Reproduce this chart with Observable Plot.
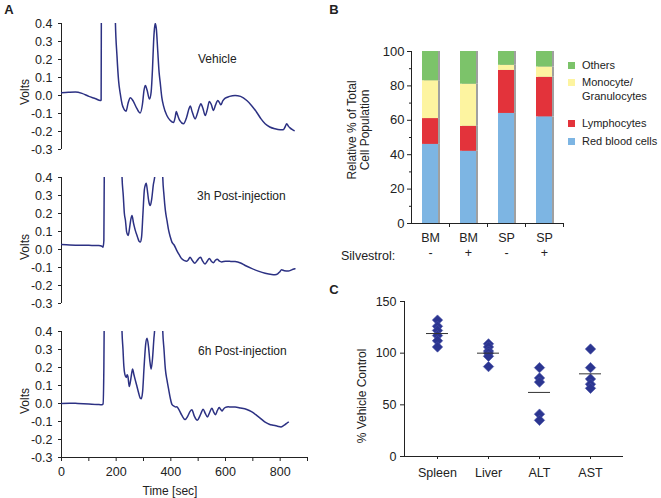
<!DOCTYPE html>
<html><head><meta charset="utf-8">
<script src="https://cdn.jsdelivr.net/npm/d3@7"></script>
<script src="https://cdn.jsdelivr.net/npm/@observablehq/plot@0.6"></script>
<style>
body{margin:0;background:#fff;font-family:"Liberation Sans",Arial,sans-serif;}
#root{position:relative;width:661px;height:498px;overflow:hidden;background:#fff;}
.p{position:absolute;}
.t{position:absolute;font-size:12px;color:#222;white-space:nowrap;line-height:1;}
.c{transform:translate(-50%,-50%);}
.l{transform:translate(0,-50%);}
.rot{transform:translate(-50%,-50%) rotate(-90deg);text-align:center;}
.letter{font-weight:bold;font-size:13px;}
.sq{position:absolute;width:7px;height:7px;}
</style></head><body><div id="root"></div>
<script>
// ---------- Panel A data ----------
const voltTicks = [-0.3, -0.2, -0.1, 0.0, 0.1, 0.2, 0.3, 0.4];
const timeTicks = [0, 100, 200, 300, 400, 500, 600, 700, 800, 900];
const timeLabels = ["0", "", "200", "", "400", "", "600", "", "800", ""];

const vehicleTime = [0,25,51,75,100,125,142,145,146,150,190,197,203,209,215,222,228,236,244,252,262,275,288,296,302,307,313,322,328,333,337,340,343,347,352,357,361,367,373,385,398,410,416,420,425,433,446,458,466,471,478,489,497,505,510,517,526,533,541,548,556,563,572,578,583,590,599,615,635,655,678,695,714,730,745,762,781,800,811,818,824,830,836,845,851];
const vehicleVolts = [0.015,0.018,0.02,0.012,-0.005,-0.018,-0.028,-0.025,0.6,1.5,1.5,0.42,0.22,0.08,0.01,-0.05,-0.074,-0.087,-0.04,-0.013,-0.03,-0.07,-0.097,-0.05,0.03,0.055,0.03,-0.02,0.02,0.15,0.3,0.37,0.40,0.37,0.25,0.13,0.074,-0.01,-0.056,-0.11,-0.139,-0.15,-0.12,-0.089,-0.11,-0.14,-0.157,-0.12,-0.075,-0.059,-0.09,-0.13,-0.1,-0.06,-0.046,-0.07,-0.111,-0.08,-0.033,-0.05,-0.083,-0.055,-0.028,-0.04,-0.052,-0.03,-0.015,-0.005,0.0,-0.005,-0.028,-0.055,-0.093,-0.13,-0.157,-0.175,-0.185,-0.19,-0.19,-0.175,-0.157,-0.17,-0.18,-0.19,-0.195];

const h3Time = [0,30,60,100,136,148,152,155,157,160,215,221,226,230,234,238,241,244,250,254,258,263,266,270,278,284,288,293,298,303,307,310,314,318,322,325,330,336,342,345,365,370,375,380,386,392,398,404,412,422,431,440,450,458,465,470,478,488,497,505,509,515,525,533,541,548,556,563,570,578,586,600,620,635,655,672,695,720,745,769,781,791,798,805,815,830,842,854];
const h3Volts = [0.028,0.025,0.024,0.023,0.022,0.018,0.013,0.05,0.6,1.5,1.5,0.42,0.3,0.2,0.161,0.1,0.085,0.078,0.13,0.17,0.189,0.15,0.13,0.106,0.07,0.045,0.041,0.07,0.2,0.33,0.36,0.368,0.33,0.28,0.25,0.244,0.28,0.36,0.42,1.2,1.2,0.42,0.3,0.217,0.16,0.106,0.07,0.041,0.025,-0.006,-0.03,-0.052,-0.062,-0.065,-0.055,-0.043,-0.06,-0.076,-0.06,-0.045,-0.043,-0.06,-0.08,-0.065,-0.05,-0.065,-0.074,-0.06,-0.054,-0.065,-0.069,-0.065,-0.066,-0.067,-0.075,-0.089,-0.105,-0.12,-0.132,-0.139,-0.14,-0.135,-0.125,-0.113,-0.118,-0.12,-0.113,-0.107];

const h6Time = [0,30,60,100,130,148,152,155,157,160,215,221,225,228,232,237,240,243,248,253,257,260,265,270,274,282,288,292,297,302,308,313,318,323,328,333,338,341,345,365,370,375,380,386,392,398,404,412,418,422,428,440,452,462,470,477,486,497,506,513,518,526,534,542,550,556,563,570,577,582,587,593,600,610,620,635,655,678,695,714,730,745,760,775,790,803,812,818,824,830];
const h6Volts = [0.0,0.002,0.0,-0.003,-0.005,-0.007,-0.003,0.2,0.6,1.5,1.5,0.42,0.3,0.21,0.16,0.144,0.16,0.15,0.094,0.13,0.17,0.191,0.16,0.13,0.107,0.06,0.03,0.027,0.07,0.2,0.33,0.362,0.32,0.24,0.191,0.25,0.36,0.42,1.2,1.2,0.42,0.3,0.191,0.13,0.079,0.03,-0.005,-0.015,-0.02,-0.018,-0.03,-0.065,-0.089,-0.07,-0.045,-0.035,-0.07,-0.093,-0.07,-0.045,-0.032,-0.055,-0.075,-0.05,-0.026,-0.045,-0.062,-0.04,-0.022,-0.032,-0.042,-0.03,-0.022,-0.018,-0.02,-0.02,-0.025,-0.033,-0.045,-0.066,-0.085,-0.104,-0.115,-0.121,-0.126,-0.13,-0.123,-0.117,-0.11,-0.104];

// ---------- Panel B data ----------
const cellTypes = ["Red blood cells", "Lymphocytes", "Monocyte/Granulocytes", "Others"];
const cellColors = ["#7db5e3", "#e3333b", "#fdf4a0", "#7cc36a"];
const tissue = ["BM", "BM", "SP", "SP"];
const silvestrol = ["-", "+", "-", "+"];
const rbc = [46, 42, 64, 62];
const lymph = [15, 14.5, 25, 23];
const mono = [22, 24.5, 3, 6];
const others = [17, 19, 8, 9];
const pctTicks = [0, 20, 40, 60, 80, 100];
const pctMinor = [10, 30, 50, 70, 90];

// ---------- Panel C data ----------
const organs = ["Spleen", "Liver", "ALT", "AST"];
const spleenVals = [132, 126, 122, 117, 112, 106];
const liverVals = [109, 106, 102, 100, 97, 87];
const altVals = [86, 76, 72, 41, 35];
const astVals = [104, 86, 75, 70, 66];
const meanVals = [119, 100, 62, 80];
const ctrlTicks = [0, 50, 100, 150];

// ---------- helpers ----------
const root = document.getElementById("root");
const FONT = "Liberation Sans, Arial, sans-serif";
const INK = "#222";
function place(el, left, top) {
  const d = document.createElement("div");
  d.className = "p"; d.style.left = left + "px"; d.style.top = top + "px";
  d.appendChild(el); root.appendChild(d);
}
function label(text, x, y, cls, extra) {
  const d = document.createElement("div");
  d.className = "t " + cls; d.style.left = x + "px"; d.style.top = y + "px";
  d.innerHTML = text;
  if (extra) Object.assign(d.style, extra);
  root.appendChild(d);
}
const baseStyle = {fontFamily: FONT, fontSize: "12px", color: INK, background: "transparent", overflow: "visible"};

function trace(times, volts, withX) {
  const data = times.map((t, i) => ({t, v: volts[i]}));
  const mb = withX ? 42 : 11;
  return Plot.plot({
    width: 330, height: 23 + 126 + mb,
    marginLeft: 61, marginRight: 23, marginTop: 23, marginBottom: mb,
    style: baseStyle,
    x: {domain: [0, 900], axis: withX ? undefined : null},
    y: {domain: [-0.3, 0.4]},
    marks: [
      Plot.axisY({ticks: voltTicks, tickFormat: d => d.toFixed(1), tickSize: 3, tickPadding: 6, label: null, stroke: INK, fontSize: 12.5}),
      withX ? Plot.axisX({ticks: timeTicks, tickFormat: d => timeLabels[timeTicks.indexOf(d)], tickSize: 4, tickPadding: 6, label: null, fontSize: 12.5}) : null,
      Plot.ruleX([0], {stroke: INK}),
      withX ? Plot.ruleY([-0.3], {stroke: INK}) : null,
      Plot.line(data, {x: "t", y: "v", stroke: "#2c3183", strokeWidth: 1.5, curve: "monotone-x", clip: true})
    ]
  });
}

place(trace(vehicleTime, vehicleVolts, false), 0, 0);
place(trace(h3Time, h3Volts, false), 0, 154);
place(trace(h6Time, h6Volts, true), 0, 308);

label("A", 9, 9, "c letter");
label("Volts", 25, 92, "rot");
label("Volts", 25, 247, "rot");
label("Volts", 25, 401, "rot");
label("Vehicle", 198, 59, "l");
label("3h Post-injection", 197, 196, "l");
label("6h Post-injection", 198, 351, "l");
label("Time [sec]", 170, 491, "c");

// ---------- Panel B ----------
const stackTable = [];
[rbc, lymph, mono, others].forEach((arr, j) => arr.forEach((v, i) => stackTable.push({bar: i, type: cellTypes[j], value: v})));
const signTable = silvestrol.map((s, i) => ({bar: i, sign: s}));

const plotB = Plot.plot({
  width: 331, height: 270,
  marginLeft: 81, marginRight: 98, marginTop: 51, marginBottom: 47,
  style: baseStyle,
  x: {domain: [0, 1, 2, 3], paddingInner: 0.58, paddingOuter: 0.29},
  y: {domain: [0, 100]},
  color: {domain: cellTypes, range: cellColors},
  marks: [
    Plot.axisY({ticks: pctMinor, tickSize: 2, tickFormat: () => "", label: null}),
    Plot.axisY({ticks: pctTicks, tickSize: 4, tickPadding: 3, label: null, fontSize: 13}),
    Plot.axisX({tickFormat: i => tissue[i], tickSize: 0, tickPadding: 10, label: null, fontSize: 12.5}),
    Plot.axisX({tickFormat: () => "", tickSize: 4, dx: 19, label: null}),
    Plot.barY(stackTable, {x: "bar", y: "value", fill: "#a0a0a0", dx: 2}),
    Plot.barY(stackTable, {x: "bar", y: "value", fill: "type"}),
    Plot.text(signTable, {x: "bar", text: "sign", frameAnchor: "bottom", dy: 33, fontSize: 12.5}),
    Plot.ruleY([0], {stroke: INK}),
    Plot.frame({anchor: "left", stroke: INK})
  ]
});
place(plotB, 330, 0);

label("B", 334, 9, "c letter");
label("Relative % of Total<br>Cell Population", 359, 130, "rot", {lineHeight: "13px"});
label("Silvestrol:", 341, 256, "l", {fontSize: "12.5px"});
const legendRows = [
  {name: "Others", color: cellColors[3], sy: 65, ty: 65},
  {name: "Monocyte/<br>Granulocytes", color: cellColors[2], sy: 82, ty: 89},
  {name: "Lymphocytes", color: cellColors[1], sy: 123, ty: 123},
  {name: "Red blood cells", color: cellColors[0], sy: 141, ty: 141}
];
legendRows.forEach(r => {
  const s = document.createElement("div");
  s.className = "sq"; s.style.left = "568px"; s.style.top = (r.sy - 3.5) + "px"; s.style.background = r.color;
  root.appendChild(s);
  label(r.name, 582, r.ty, "l", {lineHeight: "14px", fontSize: "11px"});
});

// ---------- Panel C ----------
const dotTable = [];
[spleenVals, liverVals, altVals, astVals].forEach((arr, j) => arr.forEach(v => dotTable.push({organ: organs[j], value: v})));
const meanTable = organs.map((o, i) => ({organ: o, mean: meanVals[i]}));

const plotC = Plot.plot({
  width: 331, height: 228,
  marginLeft: 74, marginRight: 38, marginTop: 31, marginBottom: 42,
  style: baseStyle,
  x: {domain: organs, paddingInner: 0.57, paddingOuter: 0.43},
  y: {domain: [0, 150]},
  marks: [
    Plot.axisY({ticks: ctrlTicks, tickSize: 4, tickPadding: 4, label: null, fontSize: 12.5}),
    Plot.axisX({tickSize: 3, tickPadding: 9, label: null, fontSize: 12.5}),
    Plot.ruleY([0], {stroke: INK}),
    Plot.frame({anchor: "left", stroke: INK}),
    Plot.dot(dotTable, {x: "organ", y: "value", symbol: "diamond2", r: 4.7, fill: "#2b3590", stroke: "#4650a8", strokeWidth: 0.6}),
    Plot.tickY(meanTable, {x: "organ", y: "mean", stroke: "#333", strokeWidth: 1})
  ]
});
place(plotC, 330, 270);

label("C", 334, 289, "c letter");
label("% Vehicle Control", 362, 396, "rot");
</script></body></html>
